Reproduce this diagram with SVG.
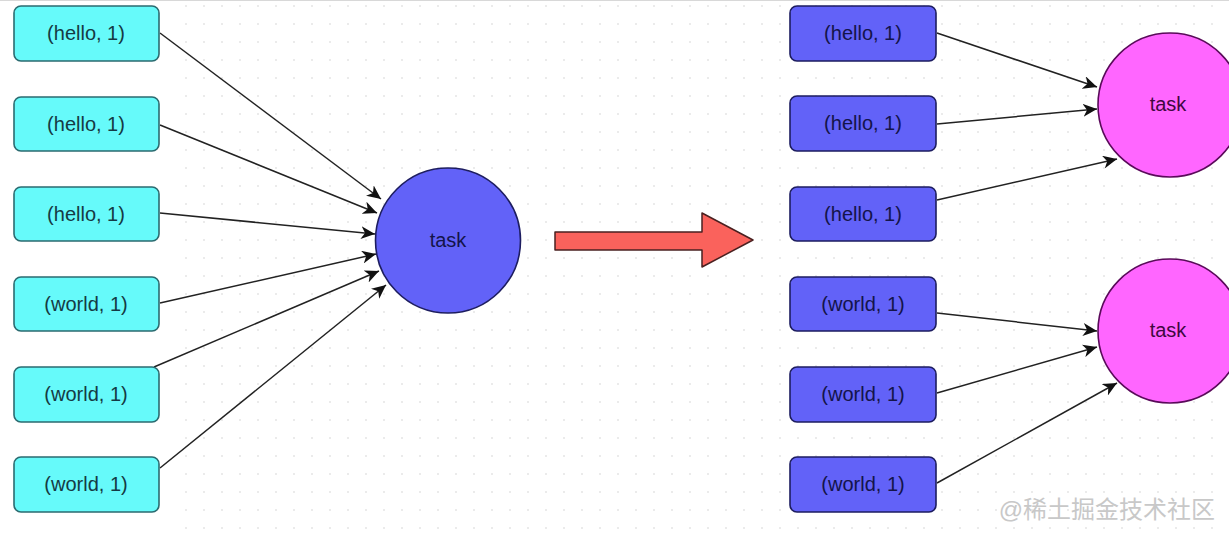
<svg xmlns="http://www.w3.org/2000/svg" width="1229" height="537" viewBox="0 0 1229 537">
<defs>
<pattern id="grid" width="18" height="18" patternUnits="userSpaceOnUse" x="5" y="5">
<circle cx="1" cy="1" r="0.9" fill="#e2e2e2"/>
</pattern>
<marker id="arr" markerWidth="15" markerHeight="13" refX="14" refY="6.5" orient="auto" markerUnits="userSpaceOnUse">
<path d="M0,0 L14,6.5 L0,13 L4,6.5 z" fill="#111"/>
</marker>
<style>
.lbox{fill:#66fafa;stroke:#2b6b70;stroke-width:1.6}
.rbox{fill:#6262f8;stroke:#1d1d60;stroke-width:1.6}
.ltxt{font-family:"Liberation Sans",Arial,sans-serif;font-size:20px;fill:#153a44;text-anchor:middle}
.rtxt{font-family:"Liberation Sans",Arial,sans-serif;font-size:20px;fill:#14144a;text-anchor:middle}
.conn{fill:none;stroke:#222;stroke-width:1.5;marker-end:url(#arr)}
.task{font-family:"Liberation Sans",Arial,sans-serif;font-size:20px;text-anchor:middle}
</style>
</defs>
<rect width="1229" height="537" fill="#ffffff"/>
<rect x="170" y="0" width="1059" height="537" fill="url(#grid)"/>
<line x1="0" y1="0.5" x2="1229" y2="0.5" stroke="#d8d8d8"/>

<g id="connectors">
<path class="conn" d="M160,33 L381,199"/>
<path class="conn" d="M160,125 L377,213"/>
<path class="conn" d="M160,213 L375,234"/>
<path class="conn" d="M160,303 L376,254"/>
<path class="conn" d="M154,367 L379,271"/>
<path class="conn" d="M160,468 L386,285"/>
<path class="conn" d="M937,33 L1097,87"/>
<path class="conn" d="M937,124 L1097,109"/>
<path class="conn" d="M937,200 L1117,159"/>
<path class="conn" d="M937,313 L1097,331"/>
<path class="conn" d="M937,393 L1097,347"/>
<path class="conn" d="M937,483 L1117,383"/>
</g>

<g id="l1"><rect class="lbox" x="14" y="6" width="145" height="55" rx="7"/><text class="ltxt" x="86" y="40">(hello, 1)</text></g>
<g id="l2"><rect class="lbox" x="14" y="97" width="145" height="54" rx="7"/><text class="ltxt" x="86" y="131">(hello, 1)</text></g>
<g id="l3"><rect class="lbox" x="14" y="187" width="145" height="54" rx="7"/><text class="ltxt" x="86" y="221">(hello, 1)</text></g>
<g id="l4"><rect class="lbox" x="14" y="277" width="145" height="54" rx="7"/><text class="ltxt" x="86" y="311">(world, 1)</text></g>
<g id="l5"><rect class="lbox" x="14" y="367" width="145" height="55" rx="7"/><text class="ltxt" x="86" y="401">(world, 1)</text></g>
<g id="l6"><rect class="lbox" x="14" y="457" width="145" height="55" rx="7"/><text class="ltxt" x="86" y="491">(world, 1)</text></g>

<g id="ltask"><circle cx="448" cy="240.5" r="72.5" fill="#6262f8" stroke="#1d1d60" stroke-width="1.6"/><text class="task" x="448" y="247" fill="#14144a">task</text></g>

<g id="bigarrow"><path d="M555,232 L702,232 L702,213 L753,240 L702,267 L702,250 L555,250 Z" fill="#fa625c" stroke="#4a2020" stroke-width="1.5" stroke-linejoin="round"/></g>

<g id="r1"><rect class="rbox" x="790" y="6" width="146" height="55" rx="7"/><text class="rtxt" x="863" y="40">(hello, 1)</text></g>
<g id="r2"><rect class="rbox" x="790" y="96" width="146" height="55" rx="7"/><text class="rtxt" x="863" y="130">(hello, 1)</text></g>
<g id="r3"><rect class="rbox" x="790" y="187" width="146" height="54" rx="7"/><text class="rtxt" x="863" y="221">(hello, 1)</text></g>
<g id="r4"><rect class="rbox" x="790" y="277" width="146" height="54" rx="7"/><text class="rtxt" x="863" y="311">(world, 1)</text></g>
<g id="r5"><rect class="rbox" x="790" y="367" width="146" height="55" rx="7"/><text class="rtxt" x="863" y="401">(world, 1)</text></g>
<g id="r6"><rect class="rbox" x="790" y="457" width="146" height="55" rx="7"/><text class="rtxt" x="863" y="491">(world, 1)</text></g>

<g id="rtask1"><circle cx="1170" cy="105" r="72" fill="#ff66ff" stroke="#5a0a5a" stroke-width="1.6"/><text class="task" x="1168" y="111" fill="#400840">task</text></g>
<g id="rtask2"><circle cx="1170" cy="331" r="72" fill="#ff66ff" stroke="#5a0a5a" stroke-width="1.6"/><text class="task" x="1168" y="337" fill="#400840">task</text></g>

<text x="1215" y="518" text-anchor="end" font-family="'Liberation Sans','Noto Sans CJK SC',sans-serif" font-size="24" fill="#c8c8c8">@稀土掘金技术社区</text>
</svg>
